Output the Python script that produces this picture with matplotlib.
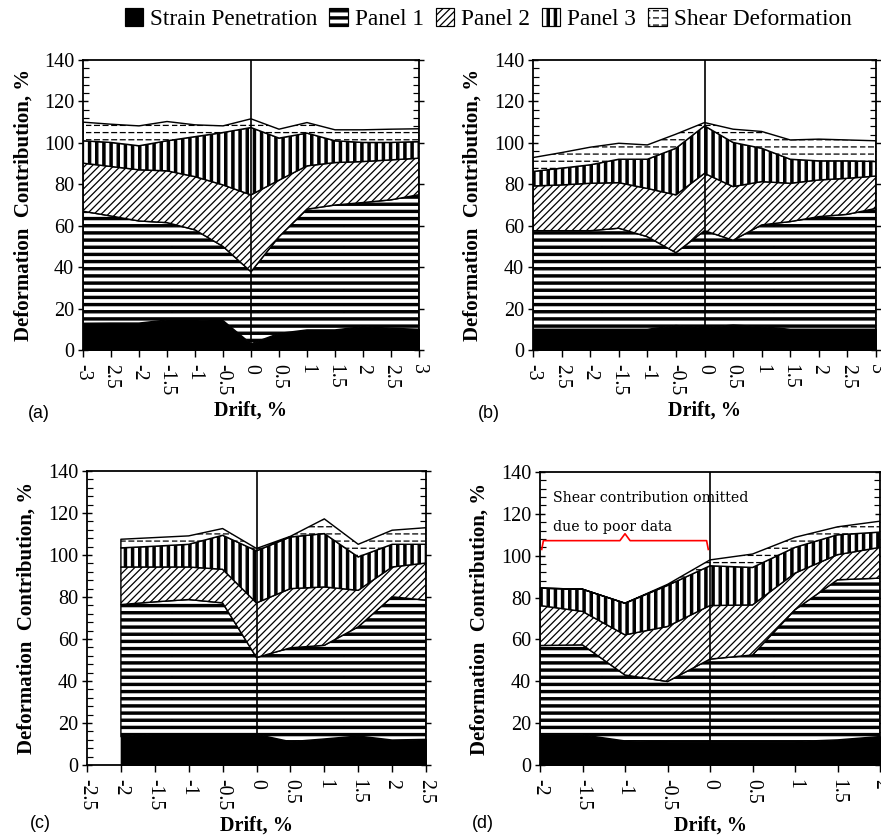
import numpy as np
import matplotlib; matplotlib.use("Agg")
import matplotlib.pyplot as plt
from matplotlib import hatch as mhatch
from matplotlib.path import Path
from matplotlib.patches import Patch
from matplotlib.ticker import MultipleLocator

# ---- data: contribution of each component (%) per drift step ----
DRIFT_AB = [-3, -2.5, -2, -1.5, -1, -0.5, 0, 0.5, 1, 1.5, 2, 2.5, 3]
DRIFT_C = [-2, -1.5, -1, -0.5, 0, 0.5, 1, 1.5, 2, 2.5]
DRIFT_D = [-2, -1.5, -1, -0.5, 0, 0.5, 1, 1.5, 2]

A_SP = [12.9, 13.0, 13.0, 14.5, 14.5, 14.2, 3.0, 8.0, 9.7, 9.7, 11.3, 10.5, 10.0]
A_P1 = [54.1, 51.7, 49.3, 47.0, 43.5, 35.8, 34.8, 46.7, 58.3, 60.3, 59.9, 62.0, 65.0]
A_P2 = [23.2, 23.9, 24.7, 25.0, 25.7, 29.7, 37.1, 27.3, 20.9, 20.5, 19.8, 19.3, 17.6]
A_P3 = [10.8, 11.6, 11.6, 14.5, 19.3, 25.3, 32.5, 20.3, 15.8, 10.5, 9.2, 8.4, 8.0]
A_SH = [9.0, 8.8, 9.6, 9.3, 5.7, 3.2, 4.2, 4.3, 5.1, 5.3, 6.1, 6.4, 6.2]

B_SP = [10.0, 10.0, 10.0, 10.0, 10.0, 11.8, 10.8, 12.0, 11.3, 10.0, 10.0, 10.0, 10.0]
B_P1 = [47.6, 47.6, 47.6, 48.8, 44.7, 35.2, 46.8, 41.0, 49.1, 52.0, 54.4, 55.5, 58.4]
B_P2 = [21.6, 22.1, 22.9, 22.0, 23.3, 27.9, 27.7, 25.9, 20.9, 18.5, 17.7, 17.4, 15.6]
B_P3 = [7.0, 8.1, 8.9, 11.3, 14.1, 22.5, 22.9, 21.3, 16.1, 11.6, 9.2, 8.4, 7.0]
B_SH = [6.7, 7.5, 8.5, 7.7, 6.9, 6.8, 1.6, 6.4, 8.1, 9.3, 10.5, 10.1, 10.0]

C_SP = [13.5, 14.6, 14.6, 14.6, 14.6, 11.1, 12.4, 13.8, 11.9, 12.2]
C_P1 = [62.9, 63.1, 64.2, 62.6, 36.6, 44.7, 44.6, 52.0, 68.2, 66.3]
C_P2 = [17.9, 16.6, 15.5, 16.0, 26.0, 28.2, 27.8, 17.4, 14.2, 17.7]
C_P3 = [9.1, 9.9, 10.8, 16.2, 24.8, 24.6, 25.4, 15.9, 10.8, 8.9]
C_SH = [4.1, 4.1, 4.0, 3.2, 1.1, 0.3, 7.0, 6.0, 6.7, 7.9]

D_SP = [14.4, 14.4, 11.5, 11.2, 11.2, 11.2, 11.2, 12.0, 13.6]
D_P1 = [42.7, 43.0, 31.5, 28.7, 39.4, 41.4, 63.0, 76.5, 75.7]
D_P2 = [19.1, 16.0, 19.2, 26.3, 25.6, 23.9, 17.5, 12.0, 14.7]
D_P3 = [8.3, 10.6, 15.1, 19.6, 19.0, 17.9, 12.3, 9.5, 7.3]
D_SH = [0.0, 0.0, 0.0, 0.5, 2.8, 6.4, 4.8, 3.8, 5.2]

XT_AB = [-3, -2.5, -2, -1.5, -1, -0.5, 0, 0.5, 1, 1.5, 2, 2.5, 3]
XTL_AB = ["-3", "2.5", "-2", "-1.5", "-1", "-0.5", "0", "0.5", "1", "1.5", "2", "2.5", "3"]
XT_C = [-2.5, -2, -1.5, -1, -0.5, 0, 0.5, 1, 1.5, 2, 2.5]
XTL_C = ["-2.5", "-2", "-1.5", "-1", "-0.5", "0", "0.5", "1", "1.5", "2", "2.5"]
XT_D = [-2, -1.5, -1, -0.5, 0, 0.5, 1, 1.5, 2]
XTL_D = ["-2", "-1.5", "-1", "-0.5", "0", "0.5", "1", "1.5", "2"]

COMPONENTS = ["Strain Penetration", "Panel 1", "Panel 2", "Panel 3", "Shear Deformation"]


# --- custom hatches: thick filled stripes for '-' and '|', dashed rows for 'o' ---
# (agg fills a closed hatch path before stroking it, so stripes come out solid)
class HBands(mhatch.HatchPatternBase):
    char, vertical, frac = "-", False, 0.30

    def __init__(self, hatch, density):
        self.num_lines = int(hatch.count(self.char) * density)
        self.num_vertices = self.num_lines * 5

    def set_vertices_and_codes(self, vertices, codes):
        n = self.num_lines
        lo = (np.arange(n) + 0.5 - self.frac / 2) / n
        hi = lo + self.frac / n
        along = np.tile([0., 1., 1., 0., 0.], n)
        across = np.column_stack([lo, lo, hi, hi, lo]).ravel()
        if self.vertical:
            vertices[:, 0], vertices[:, 1] = across, along
        else:
            vertices[:, 0], vertices[:, 1] = along, across
        codes[:] = np.tile([Path.MOVETO, Path.LINETO, Path.LINETO, Path.LINETO, Path.CLOSEPOLY], n)


class VBands(HBands):
    char, vertical, frac = "|", True, 0.31


class DashedRows(mhatch.HatchPatternBase):
    def __init__(self, hatch, density):
        self.num_lines = int(hatch.count('o') * density)
        self.num_dashes = 10
        self.num_vertices = self.num_lines * self.num_dashes * 2

    def set_vertices_and_codes(self, vertices, codes):
        ys = (np.arange(self.num_lines) + 0.5) / self.num_lines
        xs = np.arange(self.num_dashes) / self.num_dashes
        yy, xx = np.meshgrid(ys, xs, indexing='ij')
        yy, xx = yy.ravel(), xx.ravel()
        vertices[0::2, 0] = xx
        vertices[0::2, 1] = yy
        vertices[1::2, 0] = xx + 0.55 / self.num_dashes
        vertices[1::2, 1] = yy
        codes[0::2] = Path.MOVETO
        codes[1::2] = Path.LINETO


_swap = {mhatch.HorizontalHatch: HBands, mhatch.VerticalHatch: VBands}
mhatch._hatch_types = [_swap.get(h, h) for h in mhatch._hatch_types
                       if h is not mhatch.SmallCircles] + [DashedRows]

# (facecolor, hatch) per component
STYLE = [("black", None), ("white", "--"), ("white", "////"), ("white", "||"), ("white", "oo")]

DPI = 86
plt.rcParams["font.family"] = ["Liberation Serif", "DejaVu Serif"]
plt.rcParams["hatch.linewidth"] = 1.05
fig = plt.figure(figsize=(881 / DPI, 840 / DPI), dpi=DPI)
W, H = 881, 840

def axes_px(x0, x1, y0, y1):
    return fig.add_axes([x0 / W, 1 - y1 / H, (x1 - x0) / W, (y1 - y0) / H])


def panel(ax, x, layers, xt, xtl, xlim):
    x = np.asarray(x, float)
    base = np.zeros(len(x))
    for vals, (fc, hatch) in zip(layers, STYLE):
        top = base + np.asarray(vals, float)
        ax.fill_between(x, base, top, facecolor=fc, edgecolor="k", hatch=hatch, lw=1.2, zorder=2)
        base = top
    ax.axvline(0, color="k", lw=1.4, zorder=5)
    ax.set_xlim(*xlim); ax.set_ylim(0, 140)
    ax.set_xticks(xt, xtl, rotation=270, fontsize=16.5)
    ax.yaxis.set_major_locator(MultipleLocator(20))
    ax.yaxis.set_minor_locator(MultipleLocator(4))
    ax.tick_params(axis="y", which="major", direction="inout", length=9, width=1.2,
                   left=True, right=True, labelsize=17, pad=3)
    ax.tick_params(axis="y", which="minor", direction="in", length=5, width=1.0,
                   left=True, right=True)
    ax.tick_params(axis="x", which="major", direction="out", length=6, width=1.2, pad=6)
    for s in ax.spines.values():
        s.set_linewidth(1.5); s.set_zorder(6)
    ax.set_ylabel("Deformation  Contribution, %", fontsize=17.5, fontweight="bold")
    ax.set_xlabel("Drift, %", fontsize=17, fontweight="bold")
    ax.yaxis.set_label_coords(-0.148, 0.5)


axA = axes_px(83, 419, 60, 350)
axB = axes_px(533, 876, 60, 350)
axC = axes_px(87, 426, 471, 765)
axD = axes_px(540, 880, 472, 765)

panel(axA, DRIFT_AB, [A_SP, A_P1, A_P2, A_P3, A_SH], XT_AB, XTL_AB, (-3, 3))
panel(axB, DRIFT_AB, [B_SP, B_P1, B_P2, B_P3, B_SH], XT_AB, XTL_AB, (-3, 3))
panel(axC, DRIFT_C, [C_SP, C_P1, C_P2, C_P3, C_SH], XT_C, XTL_C, (-2.5, 2.5))
panel(axD, DRIFT_D, [D_SP, D_P1, D_P2, D_P3, D_SH], XT_D, XTL_D, (-2, 2))

# note on panel (d): shear left out for the negative half
brace_x = [-1.98, -1.96, -1.06, -1.0, -0.94, -0.04, -0.02]
brace_y = [103.0, 107.2, 107.2, 110.5, 107.2, 107.2, 103.0]
axD.plot(brace_x, brace_y, color="red", lw=1.4, zorder=7, solid_joinstyle="round")
for txt, yv in [("Shear contribution omitted", 127.5), ("due to poor data", 113.5)]:
    axD.text(-1.85, yv, txt, fontsize=11.8, family="DejaVu Serif", va="center", ha="left", zorder=4)

for lab, xp, yp in [("(a)", 28, 413), ("(b)", 478, 413), ("(c)", 30, 823), ("(d)", 472, 823)]:
    fig.text(xp / W, 1 - yp / H, lab, fontsize=15, family="Liberation Sans", va="center", ha="left")

handles = [Patch(facecolor=fc, edgecolor="k", hatch=hatch, lw=1.0) for fc, hatch in STYLE]
fig.legend(handles, COMPONENTS, loc="center", bbox_to_anchor=(488 / W, 1 - 19 / H), ncol=5,
           frameon=False, fontsize=19.5, handlelength=0.8, handleheight=0.8,
           handletextpad=0.3, columnspacing=0.5, borderpad=0)

fig.savefig("out.png", dpi=DPI)
